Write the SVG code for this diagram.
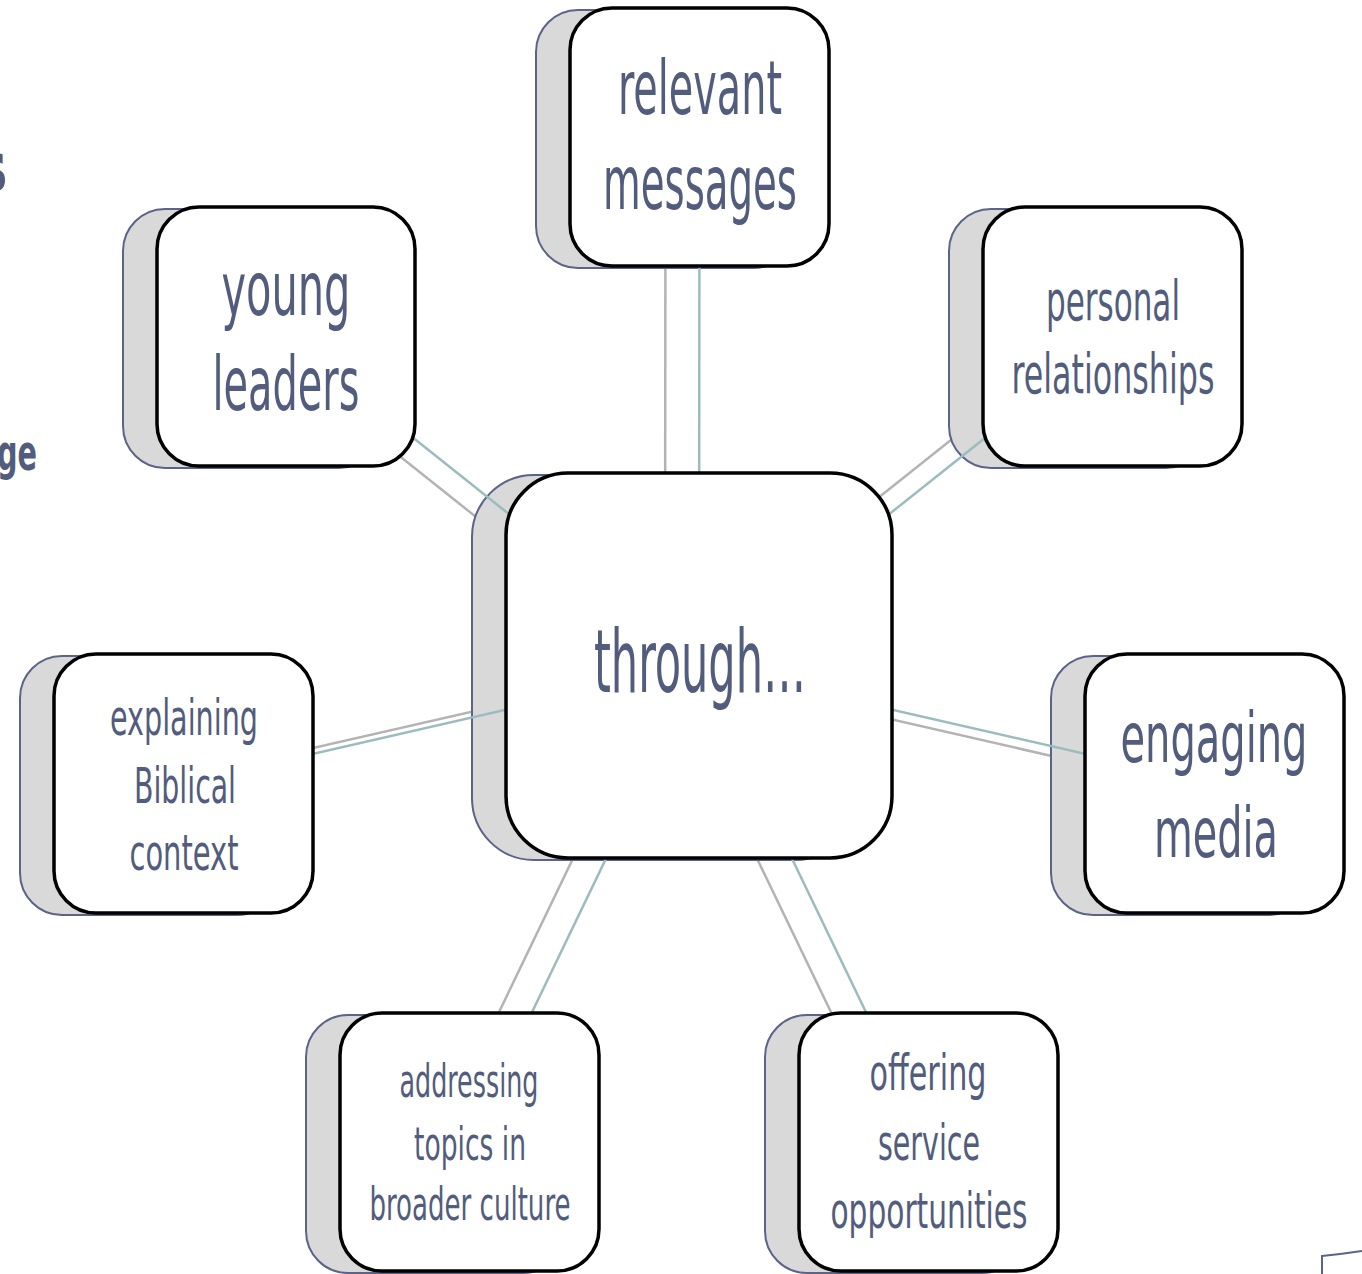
<svg xmlns="http://www.w3.org/2000/svg" width="1362" height="1274" viewBox="0 0 1362 1274">
<style>
.sh{fill:#d9d9d9;stroke:#5a6488;stroke-width:2}
.mn{fill:#ffffff;stroke:#000000;stroke-width:3.5}
.g{stroke:#b3b3b3;stroke-width:2.5;fill:none}
.t{stroke:#9bbcbf;stroke-width:2.5;fill:none}
.tx{font-family:"Liberation Sans Narrow","DejaVu Sans Condensed","Liberation Sans",sans-serif;fill:#525c7d;text-anchor:middle}
.frag{font-family:"DejaVu Sans Condensed","Liberation Sans",sans-serif;font-weight:bold;fill:#525c7d;text-anchor:end}
</style>
<rect width="1362" height="1274" fill="#ffffff"/>
<text class="frag" x="8" y="192" font-size="72">s</text>
<text class="frag" x="37" y="470" font-size="50" textLength="40" lengthAdjust="spacingAndGlyphs">ge</text>
<path d="M1322,1274 L1322,1256 Q1342,1254 1362,1251" fill="none" stroke="#5a6488" stroke-width="2"/>
<g id="connectors-back">
<line class="g" x1="665" y1="667.5" x2="665.5" y2="139"/>
<line class="g" x1="665" y1="667.5" x2="252" y2="338.5"/>
<line class="g" x1="665" y1="667.5" x2="1078.5" y2="338.5"/>
<line class="g" x1="665" y1="667.5" x2="149.5" y2="785.5"/>
<line class="g" x1="665" y1="667.5" x2="1180.5" y2="785.5"/>
<line class="g" x1="665" y1="667.5" x2="435.5" y2="1144"/>
<line class="g" x1="665" y1="667.5" x2="894.5" y2="1144"/>
</g>
<g id="shadows">
<rect class="sh" x="536" y="10" width="259" height="258" rx="42"/>
<rect class="sh" x="123" y="209" width="258" height="259" rx="42"/>
<rect class="sh" x="949" y="209" width="259" height="259" rx="42"/>
<rect class="sh" x="472" y="475" width="386" height="385" rx="62"/>
<rect class="sh" x="20" y="656" width="259" height="259" rx="42"/>
<rect class="sh" x="1051" y="656" width="259" height="259" rx="42"/>
<rect class="sh" x="306" y="1015" width="259" height="258" rx="42"/>
<rect class="sh" x="765" y="1015" width="259" height="258" rx="42"/>
</g>
<g id="connectors">
<line class="t" x1="699" y1="665.5" x2="699.5" y2="137"/>
<line class="t" x1="699" y1="665.5" x2="286" y2="336.5"/>
<line class="t" x1="699" y1="665.5" x2="1112.5" y2="336.5"/>
<line class="t" x1="699" y1="665.5" x2="183.5" y2="783.5"/>
<line class="t" x1="699" y1="665.5" x2="1214.5" y2="783.5"/>
<line class="t" x1="699" y1="665.5" x2="469.5" y2="1142"/>
<line class="t" x1="699" y1="665.5" x2="928.5" y2="1142"/>
</g>
<g id="node-relevant">
<rect class="mn" x="570" y="8" width="259" height="258" rx="42"/>
<text class="tx" x="700" y="114" font-size="74" textLength="164" lengthAdjust="spacingAndGlyphs">relevant</text>
<text class="tx" x="700" y="209" font-size="74" textLength="194" lengthAdjust="spacingAndGlyphs">messages</text>
</g>
<g id="node-young">
<rect class="mn" x="157" y="207" width="258" height="259" rx="42"/>
<text class="tx" x="286" y="315" font-size="74" textLength="129" lengthAdjust="spacingAndGlyphs">young</text>
<text class="tx" x="286" y="410" font-size="74" textLength="147" lengthAdjust="spacingAndGlyphs">leaders</text>
</g>
<g id="node-personal">
<rect class="mn" x="983" y="207" width="259" height="259" rx="42"/>
<text class="tx" x="1113" y="320" font-size="56" textLength="134" lengthAdjust="spacingAndGlyphs">personal</text>
<text class="tx" x="1113" y="393" font-size="56" textLength="203" lengthAdjust="spacingAndGlyphs">relationships</text>
</g>
<g id="node-center">
<rect class="mn" x="506" y="473" width="386" height="385" rx="62"/>
<text class="tx" x="700" y="692" font-size="88" textLength="212" lengthAdjust="spacingAndGlyphs">through…</text>
</g>
<g id="node-explaining">
<rect class="mn" x="54" y="654" width="259" height="259" rx="42"/>
<text class="tx" x="184" y="735" font-size="50" textLength="148" lengthAdjust="spacingAndGlyphs">explaining</text>
<text class="tx" x="185" y="803" font-size="50" textLength="102" lengthAdjust="spacingAndGlyphs">Biblical</text>
<text class="tx" x="184" y="870" font-size="50" textLength="109" lengthAdjust="spacingAndGlyphs">context</text>
</g>
<g id="node-engaging">
<rect class="mn" x="1085" y="654" width="259" height="259" rx="42"/>
<text class="tx" x="1214" y="762" font-size="70" textLength="187" lengthAdjust="spacingAndGlyphs">engaging</text>
<text class="tx" x="1216" y="857" font-size="70" textLength="124" lengthAdjust="spacingAndGlyphs">media</text>
</g>
<g id="node-addressing">
<rect class="mn" x="340" y="1013" width="259" height="258" rx="42"/>
<text class="tx" x="469" y="1097" font-size="46" textLength="139" lengthAdjust="spacingAndGlyphs">addressing</text>
<text class="tx" x="470" y="1160" font-size="46" textLength="112" lengthAdjust="spacingAndGlyphs">topics in</text>
<text class="tx" x="470" y="1220" font-size="46" textLength="201" lengthAdjust="spacingAndGlyphs">broader culture</text>
</g>
<g id="node-offering">
<rect class="mn" x="799" y="1013" width="259" height="258" rx="42"/>
<text class="tx" x="928" y="1090" font-size="50" textLength="117" lengthAdjust="spacingAndGlyphs">offering</text>
<text class="tx" x="929" y="1160" font-size="50" textLength="102" lengthAdjust="spacingAndGlyphs">service</text>
<text class="tx" x="929" y="1228" font-size="50" textLength="197" lengthAdjust="spacingAndGlyphs">opportunities</text>
</g>
</svg>
